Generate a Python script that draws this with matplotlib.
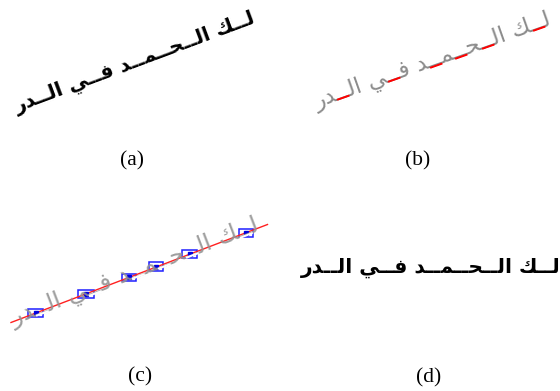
import numpy as np
import matplotlib
matplotlib.use("Agg")
import matplotlib.pyplot as plt
from matplotlib.patches import Rectangle

# ---------------- data ----------------
T = "\u0640"  # tatweel (kashida)
K = 2         # kashida length used in the words
# words in logical (right-to-left) order, written with Arabic presentation forms
word1 = "\uFEDF" + T * K + "\uFEDA"                                   # لـــك
word2 = "\uFE8D\uFEDF" + T * K + "\uFEA4" + T * K + "\uFEE4" + T * K + "\uFEAA"  # الـــحـــمـــد
word3 = "\uFED3" + T * K + "\uFEF2"                                   # فـــي
word4 = "\uFE8D\uFEDF" + T * K + "\uFEAA\uFEAD"                       # الـــدر
words = [word1, word2, word3, word4]

panel_labels = ["(a)", "(b)", "(c)", "(d)"]

# fitted baseline in panel (c): endpoints (x, y) in image pixels
fit_x = [11.0, 267.5]
fit_y = [322.5, 224.5]
# detected kashida boxes in panel (c): centres, widths, heights
box_cx = [35.5, 86.0, 129.0, 156.3, 189.7, 246.3]
box_cy = [313.0, 294.0, 277.3, 266.5, 254.2, 232.8]
box_w = [14.3, 16.7, 14.3, 14.0, 15.3, 14.0]
box_h = [7.7, 7.7, 7.3, 8.3, 8.3, 7.7]

# ---------------- helpers ----------------
logical = " ".join(words)
visual = logical[::-1]  # left-to-right drawing order

AR_FAMILY = ["DejaVu Sans"]


def ink_extent(s, size, weight):
    """Rendered ink extent (left, right) in px relative to the text anchor."""
    f = plt.figure(figsize=(24, 2), dpi=100)
    f.text(20 / 2400, 0.5, s, fontsize=size, fontweight=weight,
           family=AR_FAMILY, ha="left", va="baseline", color="black")
    f.canvas.draw()
    a = np.asarray(f.canvas.buffer_rgba())[:, :, 0]
    cols = np.where((a < 160).any(axis=0))[0]
    plt.close(f)
    return cols.min() - 20.0, cols.max() + 1 - 20.0


W, H = 560, 391
fig = plt.figure(figsize=(W / 100, H / 100), dpi=100)
ax = fig.add_axes([0, 0, 1, 1])
ax.set_xlim(0, W)
ax.set_ylim(H, 0)
ax.axis("off")

REF = 40.0


def draw_arabic(x0, y0, angle, length, color, weight, alpha=1.0,
                kashida_color=None):
    l, r = ink_extent(visual, REF, weight)
    size = REF * length / (r - l)
    l, r = ink_extent(visual, size, weight)
    th = np.deg2rad(angle)
    c, s_ = np.cos(th), np.sin(th)
    # shift so the ink starts at (x0, y0)
    ax0, ay0 = x0 - l * c, y0 + l * s_
    ax.text(ax0, ay0, visual, fontsize=size, fontweight=weight,
            family=AR_FAMILY, color=color, alpha=alpha,
            rotation=angle, rotation_mode="anchor",
            ha="left", va="baseline")
    if kashida_color is not None:
        i = 0
        while i < len(visual):
            if visual[i] == T:
                j = i
                while j < len(visual) and visual[j] == T:
                    j += 1
                run = visual[i:j]
                _, pr = ink_extent(visual[:j], size, weight)
                rl, rr = ink_extent(run, size, weight)
                start = pr - (rr - rl) - rl
                ax.text(ax0 + start * c, ay0 - start * s_, run,
                        fontsize=size, fontweight=weight, family=AR_FAMILY,
                        color=kashida_color, rotation=angle,
                        rotation_mode="anchor", ha="left", va="baseline")
                i = j
            else:
                i += 1
    return size


# (a) skewed input text
draw_arabic(16, 112, 20.5, 252, "black", "bold")
# (b) skewed text with kashida highlighted
draw_arabic(316, 109, 19.5, 250, "#8c8c8c", "normal", kashida_color="#ff0000")
# (c) text fragments (kashida removed), fitted line and kashida boxes
draw_arabic(13, 326, 21.0, 262, "#939393", "normal", alpha=0.9,
            kashida_color="white")
ax.plot(fit_x, fit_y, color="#ff2020", lw=1.0)
for cx, cy, bw, bh in zip(box_cx, box_cy, box_w, box_h):
    ax.add_patch(Rectangle((cx - bw / 2, cy - bh / 2), bw, bh, fill=False,
                           edgecolor="#1f1fff", lw=1.1))
ax.plot(box_cx, box_cy, ls="none", marker="s", ms=3, color="#0000e0")
# (d) deskewed text
draw_arabic(300, 273, 0.0, 255, "black", "bold")

# panel labels
label_pos = [(132, 161), (418, 161), (140, 377), (429, 378)]
for lab, (lx, ly) in zip(panel_labels, label_pos):
    ax.text(lx, ly, lab, fontsize=15.5, family="Liberation Serif",
            ha="center", va="center", color="black")

fig.savefig("out.png", dpi=100, facecolor="white")
